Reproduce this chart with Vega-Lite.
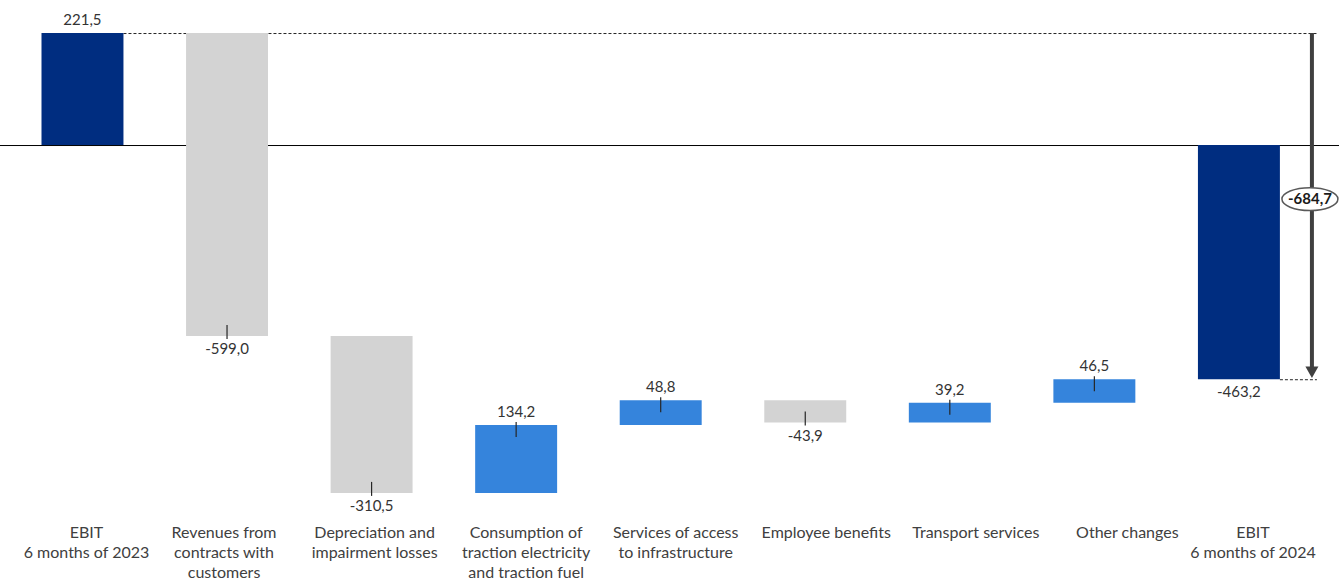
{
  "$schema": "https://vega.github.io/schema/vega-lite/v6.json",
  "width": 1339,
  "height": 520,
  "padding": {"left": 0, "top": 0, "right": 0, "bottom": 58},
  "autosize": {"type": "none"},
  "background": "white",
  "config": {"view": {"stroke": null}},
  "datasets": {
    "bars": [
      {"cat": "EBIT|6 months of 2023", "type": "total", "value": 221.5, "start": 0, "end": 221.5},
      {"cat": "Revenues from|contracts with|customers", "type": "neg", "value": -599.0, "start": 221.5, "end": -377.5},
      {"cat": "Depreciation and|impairment losses", "type": "neg", "value": -310.5, "start": -377.5, "end": -688.0},
      {"cat": "Consumption of|traction electricity|and traction fuel", "type": "pos", "value": 134.2, "start": -688.0, "end": -553.8},
      {"cat": "Services of access|to infrastructure", "type": "pos", "value": 48.8, "start": -553.8, "end": -505.0},
      {"cat": "Employee benefits", "type": "neg", "value": -43.9, "start": -505.0, "end": -548.9},
      {"cat": "Transport services", "type": "pos", "value": 39.2, "start": -548.9, "end": -509.7},
      {"cat": "Other changes", "type": "pos", "value": 46.5, "start": -509.7, "end": -463.2},
      {"cat": "EBIT|6  months of 2024", "type": "total", "value": -463.2, "start": 0, "end": -463.2}
    ],
    "annot": [
      {"cat0": "EBIT|6 months of 2023", "cat1": "EBIT|6  months of 2024", "from": 221.5, "to": -463.2, "diff": -684.7}
    ]
  },
  "encoding": {
    "x": {
      "field": "cat",
      "type": "nominal",
      "sort": null,
      "scale": {
        "domain": ["EBIT|6 months of 2023", "Revenues from|contracts with|customers", "Depreciation and|impairment losses", "Consumption of|traction electricity|and traction fuel", "Services of access|to infrastructure", "Employee benefits", "Transport services", "Other changes", "EBIT|6  months of 2024"],
        "range": [10.2, 1311.2],
        "paddingInner": 0.433,
        "paddingOuter": 0.2165
      },
      "axis": {
        "title": null,
        "domain": false,
        "ticks": false,
        "tickSize": 0,
        "labelPadding": 4,
        "labelAngle": 0,
        "labelFont": "Lato",
        "labelFontSize": 16,
        "labelColor": "#404040",
        "labelLineHeight": 20,
        "labelBaseline": "top",
        "labelOverlap": false,
        "labelBound": false,
        "labelLimit": 0,
        "labelExpr": "split(datum.value, '|')",
        "labelOffset": {
          "condition": [
            {"test": "datum.value === 'EBIT|6 months of 2023'", "value": 4},
            {"test": "datum.value === 'Revenues from|contracts with|customers'", "value": -3},
            {"test": "datum.value === 'Depreciation and|impairment losses'", "value": 3},
            {"test": "datum.value === 'Consumption of|traction electricity|and traction fuel'", "value": 10},
            {"test": "datum.value === 'Services of access|to infrastructure'", "value": 15},
            {"test": "datum.value === 'Employee benefits'", "value": 21},
            {"test": "datum.value === 'Transport services'", "value": 26},
            {"test": "datum.value === 'Other changes'", "value": 33},
            {"test": "datum.value === 'EBIT|6  months of 2024'", "value": 14}
          ],
          "value": 0
        }
      }
    }
  },
  "layer": [
    {
      "data": {"name": "annot"},
      "mark": {"type": "rule", "color": "#000000", "strokeWidth": 1, "yOffset": 0.5},
      "encoding": {"x": null, "y": {"datum": 0, "type": "quantitative", "scale": {"domain": [-741.6, 286.8], "nice": false, "zero": false}, "axis": null}}
    },
    {
      "data": {"name": "annot"},
      "mark": {"type": "rule", "color": "#262626", "strokeWidth": 1, "strokeDash": [3, 2], "xOffset": 41, "x2Offset": 78, "yOffset": 0.5},
      "encoding": {
        "x": {"field": "cat0", "type": "nominal"},
        "x2": {"field": "cat1"},
        "y": {"field": "from", "type": "quantitative"}
      }
    },
    {
      "data": {"name": "annot"},
      "mark": {"type": "rule", "color": "#262626", "strokeWidth": 1, "strokeDash": [3, 2], "xOffset": 41, "x2Offset": 78, "yOffset": 0.5},
      "encoding": {
        "x": {"field": "cat1", "type": "nominal"},
        "x2": {"field": "cat1"},
        "y": {"field": "to", "type": "quantitative"}
      }
    },
    {
      "data": {"name": "bars"},
      "mark": {"type": "bar"},
      "encoding": {
        "y": {"field": "start", "type": "quantitative"},
        "y2": {"field": "end"},
        "color": {"field": "type", "type": "nominal", "legend": null, "scale": {"domain": ["total", "neg", "pos"], "range": ["#002D80", "#D3D3D3", "#3584DC"]}}
      }
    },
    {
      "data": {"name": "bars"},
      "transform": [{"filter": "datum.type === 'pos'"}],
      "mark": {"type": "rule", "color": "#262626", "strokeWidth": 1.2, "yOffset": -3, "y2Offset": 12},
      "encoding": {
        "y": {"field": "end", "type": "quantitative"},
        "y2": {"field": "end"}
      }
    },
    {
      "data": {"name": "bars"},
      "transform": [{"filter": "datum.type === 'neg'"}],
      "mark": {"type": "rule", "color": "#262626", "strokeWidth": 1.2, "yOffset": 3, "y2Offset": -11},
      "encoding": {
        "y": {"field": "end", "type": "quantitative"},
        "y2": {"field": "end"}
      }
    },
    {
      "data": {"name": "bars"},
      "transform": [
        {"filter": "datum.value > 0"},
        {"calculate": "replace(replace(format(datum.value, '.1f'), '.', ','), '\u2212', '-')", "as": "txt"}
      ],
      "mark": {"type": "text", "font": "Lato", "fontSize": 15, "color": "#333333", "dy": -13, "baseline": "middle"},
      "encoding": {
        "y": {"field": "end", "type": "quantitative"},
        "text": {"field": "txt"}
      }
    },
    {
      "data": {"name": "bars"},
      "transform": [
        {"filter": "datum.value < 0"},
        {"calculate": "replace(replace(format(datum.value, '.1f'), '.', ','), '\u2212', '-')", "as": "txt"}
      ],
      "mark": {"type": "text", "font": "Lato", "fontSize": 15, "color": "#333333", "dy": 13, "baseline": "middle"},
      "encoding": {
        "y": {"field": "end", "type": "quantitative"},
        "text": {"field": "txt"}
      }
    },
    {
      "data": {"name": "annot"},
      "mark": {"type": "rule", "color": "#404040", "strokeWidth": 4, "xOffset": 73, "y2Offset": -10},
      "encoding": {
        "x": {"field": "cat1", "type": "nominal"},
        "y": {"field": "from", "type": "quantitative"},
        "y2": {"field": "to"}
      }
    },
    {
      "data": {"name": "annot"},
      "mark": {"type": "point", "shape": "triangle-down", "filled": true, "color": "#404040", "opacity": 1, "size": 170, "xOffset": 73, "yOffset": -7},
      "encoding": {
        "x": {"field": "cat1", "type": "nominal"},
        "y": {"field": "to", "type": "quantitative"}
      }
    },
    {
      "data": {"name": "annot"},
      "transform": [{"calculate": "(datum.from + datum.to) / 2", "as": "mid"}],
      "mark": {"type": "point", "shape": "M-1,0A1,0.41,0,1,1,1,0A1,0.41,0,1,1,-1,0Z", "filled": true, "fill": "#ffffff", "stroke": "#595959", "strokeWidth": 1.5, "opacity": 1, "size": 3136, "xOffset": 71, "yOffset": -7},
      "encoding": {
        "x": {"field": "cat1", "type": "nominal"},
        "y": {"field": "mid", "type": "quantitative"}
      }
    },
    {
      "data": {"name": "annot"},
      "transform": [
        {"calculate": "(datum.from + datum.to) / 2", "as": "mid"},
        {"calculate": "replace(replace(format(datum.diff, '.1f'), '.', ','), '\u2212', '-')", "as": "txt"}
      ],
      "mark": {"type": "text", "font": "Lato", "fontSize": 15, "fontWeight": "bold", "color": "#1a1a1a", "xOffset": 71, "yOffset": -7, "baseline": "middle"},
      "encoding": {
        "x": {"field": "cat1", "type": "nominal"},
        "y": {"field": "mid", "type": "quantitative"},
        "text": {"field": "txt"}
      }
    }
  ]
}
